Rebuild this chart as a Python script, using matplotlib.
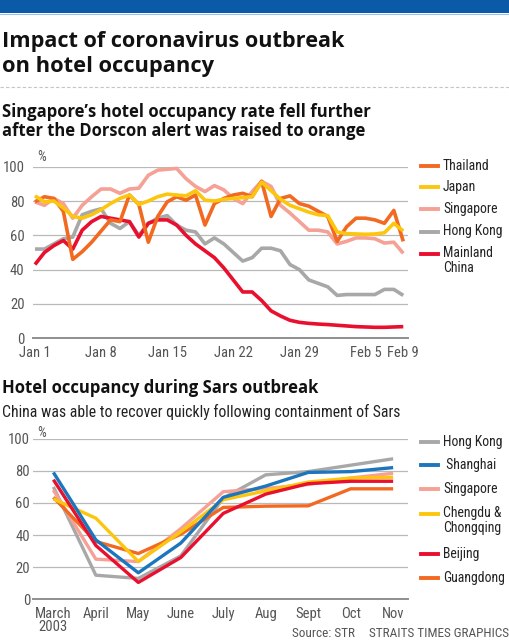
import matplotlib
matplotlib.use('Agg')
import matplotlib.pyplot as plt
from matplotlib.lines import Line2D

W, H, DPI = 510, 640, 100

# ---------------- data: top chart (daily, Jan 1 - Feb 9, 2020) ----------------
days = list(range(40))
top_tick_pos = [0, 7, 14, 21, 28, 35, 39]
top_tick_labels = ['Jan 1', 'Jan 8', 'Jan 15', 'Jan 22', 'Jan 29', 'Feb 5', 'Feb 9']
top_yticks = [0, 20, 40, 60, 80, 100]

thailand = [79.5, 82.5, 81.5, 74, 46, 50.5, 56, 62.5, 69, 68,
            83.5, 78, 56, 71, 79.5, 82.5, 80.5, 83.5, 66, 78.5,
            81.5, 83.5, 84.5, 82.5, 91.5, 71, 81.5, 83, 78.5, 77,
            74, 71, 56.5, 65, 70, 70, 69, 67, 74.5, 56.5]
japan = [83, 79.5, 80, 76, 71, 70, 72, 75, 78.5, 81.5,
         83.5, 78, 80, 82.5, 84, 83.5, 83, 86, 80.5, 80,
         81, 81.5, 82, 82.5, 91, 86, 81, 77.5, 75.5, 73.5,
         72, 71.5, 62, 61, 60.8, 60.6, 60.8, 61.5, 67, 62.5]
singapore = [79.5, 77.5, 81.5, 78.5, 70, 77.5, 82.5, 87, 87, 84.5,
             87, 87.5, 95, 98, 98.5, 99, 93, 88.5, 85.5, 89,
             86.5, 81.5, 78.5, 85.5, 91.5, 88.5, 77.5, 73, 68, 63,
             63, 62, 55, 56.5, 58.5, 58.5, 58, 55.5, 56, 49.5]
hong_kong = [52, 52, 55, 58, 59, 72, 74, 75.5, 67, 64,
             68, 60, 67, 70, 71.5, 66, 63, 62, 55, 58.5,
             55, 50, 45, 47, 52.5, 52.5, 51, 43, 40, 34,
             32, 30, 25, 25.5, 25.5, 25.5, 25.5, 28.5, 28.5, 25]
mainland_china = [43, 50, 54, 57, 52, 63, 68, 71, 70, 69,
                  68, 59, 67, 69, 69, 66, 60, 55, 51, 47,
                  41, 34, 27, 27, 22, 16, 13, 10.5, 9.3, 8.7,
                  8.3, 8, 7.6, 7.2, 6.8, 6.6, 6.4, 6.4, 6.6, 6.8]
top_names = ['Thailand', 'Japan', 'Singapore', 'Hong Kong', 'Mainland\nChina']

# ---------------- data: bottom chart (monthly, Sars 2003) ----------------
months = ['March\n2003', 'April', 'May', 'June', 'July', 'Aug', 'Sept', 'Oct', 'Nov']
hk_sars = [70, 15, 13, 27, 63, 77.5, 79.5, 83.5, 87.5]
shanghai = [79, 37, 16.5, 35, 63.5, 70.5, 79, 79.5, 82]
sg_sars = [68, 25, 23.5, 44, 67, 69, 71.5, 75.5, 78.5]
chengdu_chongqing = [62.5, 50.5, 23.5, 42, 62, 67.5, 73, 75.5, 76]
beijing = [74.5, 33.5, 10.5, 26, 53.5, 65.5, 72, 73.5, 73.5]
guangdong = [63.5, 36, 28.5, 40.5, 57.2, 58, 58.2, 68.8, 68.8]
bottom_names = ['Hong Kong', ' Shanghai', 'Singapore', 'Chengdu &\nChongqing', 'Beijing', 'Guangdong']

# ---------------- styling ----------------
ORANGE = '#f26a21'
YELLOW = '#fdc60e'
PINK = '#f5a195'
GRAY = '#a8a8a8'
RED = '#e8102e'
BLUE = '#1c76bd'
COND = ['Roboto Condensed', 'Liberation Sans Narrow', 'DejaVu Sans']
BOLD = ['Open Sans', 'DejaVu Sans']

fig = plt.figure(figsize=(W / DPI, H / DPI), dpi=DPI)
fig.patch.set_facecolor('white')

def fx(x):
    return x / W

def fy(y):
    return 1 - y / H

renderer = fig.canvas.get_renderer()

def fit_text(x, y, s, width_px, fs0=12, **kw):
    t = fig.text(fx(x), fy(y), s, fontsize=fs0, **kw)
    w = t.get_window_extent(renderer).width
    t.set_fontsize(fs0 * width_px / w)
    return t

# legend font size: fit "Hong Kong" to the width it takes in the reference
_probe = fig.text(0, 0, 'Hong Kong', family=COND, fontsize=11)
LEG_FS = 11 * 60.0 / _probe.get_window_extent(renderer).width
_probe.remove()

# header bar
fig.add_artist(plt.Rectangle((0, fy(13)), 1, 13 / H, transform=fig.transFigure,
                             facecolor='#0a5aa8', edgecolor='none'))
fig.add_artist(Line2D([0, 1], [fy(13.8), fy(13.8)], transform=fig.transFigure,
                      color='#9cc2e5', lw=0.8))
fig.add_artist(Line2D([0, 1], [fy(86.7), fy(86.7)], transform=fig.transFigure,
                      color='#c4c4c4', lw=0.8, ls=(0, (3, 2))))

fit_text(2, 47.3, 'Impact of coronavirus outbreak', 341, family=BOLD, weight='bold',
         color='#111111', va='baseline')
fit_text(2, 71.7, 'on hotel occupancy', 211, family=BOLD, weight='bold',
         color='#111111', va='baseline')
fit_text(2, 116.7, 'Singapore\u2019s hotel occupancy rate fell further', 367, family=BOLD,
         weight='bold', color='#111111', va='baseline')
fit_text(2, 135.7, 'after the Dorscon alert was raised to orange', 363, family=BOLD,
         weight='bold', color='#111111', va='baseline')
fit_text(2, 393, 'Hotel occupancy during Sars outbreak', 316, family=BOLD, weight='bold',
         color='#111111', va='baseline')
fit_text(2, 416.7, 'China was able to recover quickly following containment of Sars', 397,
         family=COND, color='#222222', va='baseline')

fig.text(fx(509), fy(637), 'STRAITS TIMES GRAPHICS', family=COND, fontsize=9.5,
         color='#555555', ha='right', va='baseline')
fig.text(fx(355), fy(637), 'Source: STR', family=COND, fontsize=9.5,
         color='#555555', ha='right', va='baseline')

def style_axes(ax, ypad):
    for s in ax.spines.values():
        s.set_visible(False)
    ax.set_ylim(0, 100)
    ax.set_yticks(top_yticks)
    ax.yaxis.grid(True, color='#b9b9b9', lw=0.9)
    ax.set_axisbelow(True)
    ax.axhline(0, color='#8f8f8f', lw=1.4, zorder=1, clip_on=False)
    ax.tick_params(length=0, labelsize=10.5, labelcolor='#555555')
    ax.tick_params(axis='y', pad=ypad)
    ax.tick_params(axis='x', pad=5.5)
    for lab in ax.get_xticklabels() + ax.get_yticklabels():
        lab.set_family(COND)

def draw_legend(names, colors, ys):
    for name, c, y in zip(names, colors, ys):
        fig.add_artist(Line2D([fx(420.7), fx(437.8)], [fy(y), fy(y)],
                              transform=fig.transFigure, color=c, lw=2.8))
        if '\n' in name:
            fig.text(fx(443), fy(y - 8), name, family=COND, fontsize=LEG_FS,
                     color='#222222', ha='left', va='top', linespacing=1.05)
        else:
            fig.text(fx(443), fy(y), name, family=COND, fontsize=LEG_FS,
                     color='#222222', ha='left', va='center')

# ---------------- top chart ----------------
ax1 = fig.add_axes([fx(33), fy(338.3), fx(408) - fx(33), fy(166.7) - fy(338.3)])
ax1.set_xlim(-0.21, 39.5)
ax1.set_xticks(top_tick_pos)
ax1.set_xticklabels(top_tick_labels)
style_axes(ax1, 6)

top_data = [thailand, japan, singapore, hong_kong, mainland_china]
top_colors = [ORANGE, YELLOW, PINK, GRAY, RED]
top_z = [5, 6, 2, 3, 4]
for vals, c, z in zip(top_data, top_colors, top_z):
    ax1.plot(days, vals, color=c, lw=2.6, solid_joinstyle='round',
             solid_capstyle='butt', zorder=z, clip_on=False)
fig.text(fx(41.7), fy(157), '%', family=COND, fontsize=10, color='#555555',
         ha='center', va='center')
draw_legend(top_names, top_colors, [166, 187, 209, 231.5, 254])

# ---------------- bottom chart ----------------
ax2 = fig.add_axes([fx(33), fy(599.3), fx(408) - fx(33), fy(438.7) - fy(599.3)])
mx = list(range(len(months)))
ax2.set_xlim(-0.48, 8.35)
ax2.set_xticks(mx)
ax2.set_xticklabels(months)
style_axes(ax2, 2)
for lab in ax2.get_xticklabels():
    lab.set_linespacing(0.95)

bottom_data = [hk_sars, shanghai, sg_sars, chengdu_chongqing, beijing, guangdong]
bottom_colors = [GRAY, BLUE, PINK, YELLOW, RED, ORANGE]
bottom_z = [2, 7, 3, 5, 6, 4]
for vals, c, z in zip(bottom_data, bottom_colors, bottom_z):
    ax2.plot(mx, vals, color=c, lw=2.4, solid_joinstyle='round',
             solid_capstyle='butt', zorder=z, clip_on=False)
fig.text(fx(41.7), fy(433), '%', family=COND, fontsize=10, color='#555555',
         ha='center', va='center')
draw_legend(bottom_names, bottom_colors, [441.7, 465, 489.3, 514.3, 554.3, 578.3])

fig.savefig('out.png', dpi=DPI, facecolor='white')
